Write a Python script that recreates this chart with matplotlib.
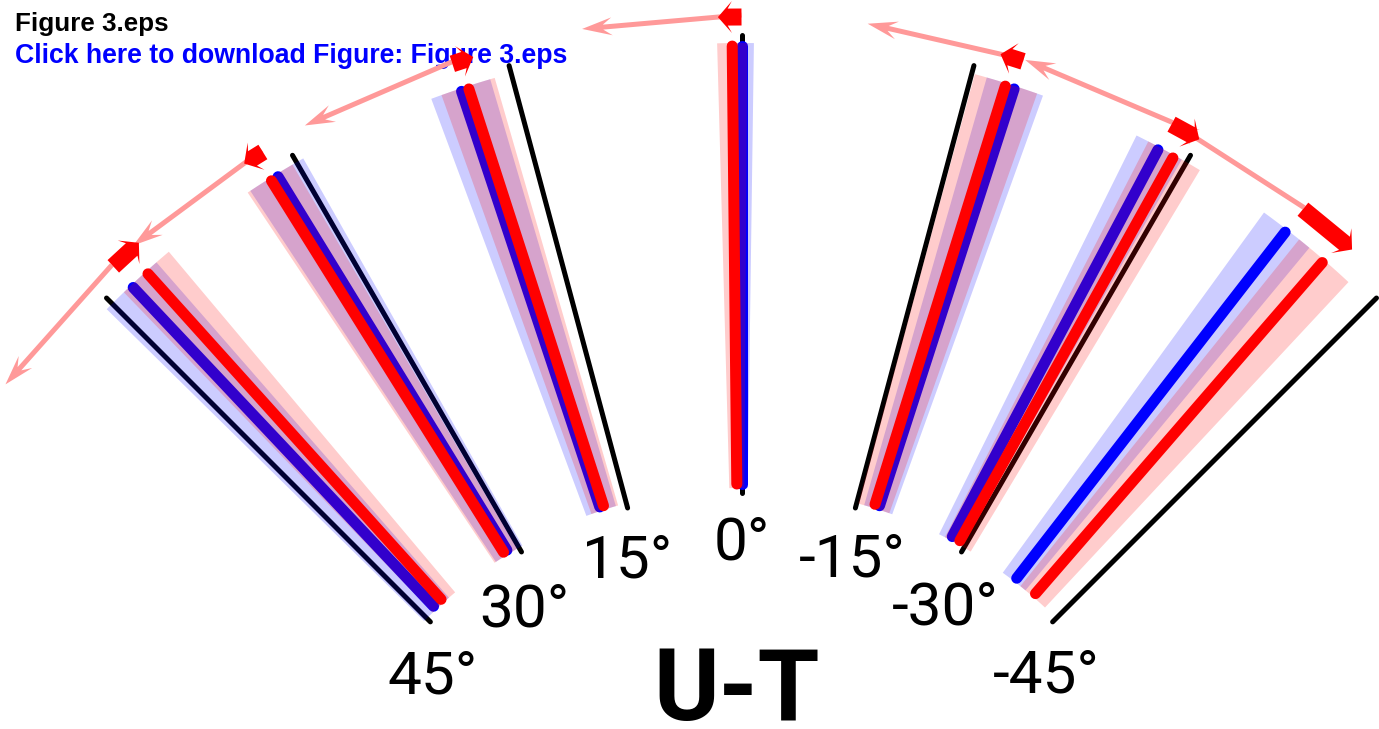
import numpy as np
import matplotlib.pyplot as plt
from matplotlib.patches import Polygon, FancyArrow

# target directions (deg, positive = counter-clockwise / leftwards)
targets = [45, 30, 15, 0, -15, -30, -45]
target_labels = ['45°', '30°', '15°', '0°', '-15°', '-30°', '-45°']

# mean direction and spread (deg) of the two conditions
blue_mean = [43.3, 31.5, 18.4, 0.0, -17.9, -28.0, -37.8]
blue_sd = [2.2, 2.0, 2.0, 0.8, 1.9, 1.65, 1.85]
red_mean = [42.0, 32.0, 17.9, 0.6, -17.3, -29.1, -40.9]
red_sd = [1.95, 1.7, 1.8, 0.97, 2.1, 1.9, 2.1]

rotation = 10  # imposed rotation shown by the pink arrows (deg)

# layout (pixels)
cx, cy = 741.5, 933
r_black = (440, 898)
r_line = (449, 887)
r_band = (445, 890)
r_arrow = 918
# where the direction labels sit (angle, radius)
label_ang = [49.7, 33.5, 16.9, 0, -16.3, -31.7, -49.3]
label_rad = [405, 394, 395, 395, 394, 388, 402]


def pt(r, a):
    a = np.radians(a)
    return cx - r * np.sin(a), cy - r * np.cos(a)


fig = plt.figure(figsize=(13.79, 7.29), dpi=100)
ax = fig.add_axes([0, 0, 1, 1])
ax.set_xlim(0, 1379)
ax.set_ylim(729, 0)
ax.axis('off')

px = 0.72  # points per pixel

for i in range(len(targets)):
    # target line
    (x0, y0), (x1, y1) = pt(r_black[0], targets[i]), pt(r_black[1], targets[i])
    ax.plot([x0, x1], [y0, y1], color='black', lw=5 * px,
            solid_capstyle='round', zorder=2)

    # blue mean line
    (x0, y0), (x1, y1) = pt(r_line[0], blue_mean[i]), pt(r_line[1], blue_mean[i])
    ax.plot([x0, x1], [y0, y1], color='#0000ff', lw=11 * px,
            solid_capstyle='round', zorder=3)

    # spread bands
    for m, s, c in ((blue_mean[i], blue_sd[i], '#0000ff'),
                    (red_mean[i], red_sd[i], '#ff0000')):
        aa = np.linspace(m - s, m + s, 20)
        outer = [pt(r_band[1], a) for a in aa]
        inner = [pt(r_band[0], a) for a in aa[::-1]]
        ax.add_patch(Polygon(outer + inner, closed=True, facecolor=c,
                             edgecolor='none', alpha=0.2, zorder=4))

    # red mean line
    (x0, y0), (x1, y1) = pt(r_line[0], red_mean[i]), pt(r_line[1], red_mean[i])
    ax.plot([x0, x1], [y0, y1], color='#ff0000', lw=11 * px,
            solid_capstyle='round', zorder=5)

    # pink arrow: expected shift from the blue direction
    xs, ys = pt(r_arrow, blue_mean[i])
    xe, ye = pt(r_arrow, blue_mean[i] + rotation)
    ax.add_patch(FancyArrow(xs, ys, xe - xs, ye - ys, width=5, head_width=18,
                            head_length=30, overhang=0.3,
                            length_includes_head=True, color='#ff9999',
                            lw=0, zorder=6))

    # red arrow: observed shift blue -> red
    xs, ys = pt(r_arrow - 2, blue_mean[i])
    xe, ye = pt(r_arrow - 2, red_mean[i])
    ax.add_patch(FancyArrow(xs, ys, xe - xs, ye - ys, width=17, head_width=32,
                            head_length=14, overhang=0.3,
                            length_includes_head=False, color='#ff0000',
                            lw=0, zorder=7))

    # direction label
    lx, ly = pt(label_rad[i], label_ang[i])
    ax.text(lx, ly + 22, target_labels[i], ha='center', va='baseline',
            fontsize=43.5, family='Roboto', color='black', zorder=1)

ax.text(cx - 5, 720, 'U-T', ha='center', va='baseline', fontsize=72,
        family='Roboto', fontweight='bold', color='black', zorder=1)

ax.text(15, 31, 'Figure 3.eps', ha='left', va='baseline', fontsize=18.7,
        family='Liberation Sans', fontweight='bold', color='black', zorder=1)
ax.text(15, 63, 'Click here to download Figure: Figure 3.eps', ha='left',
        va='baseline', fontsize=19.2, family='Liberation Sans',
        fontweight='bold', color='#0000ff', zorder=1)

fig.savefig('out.png', dpi=100)
